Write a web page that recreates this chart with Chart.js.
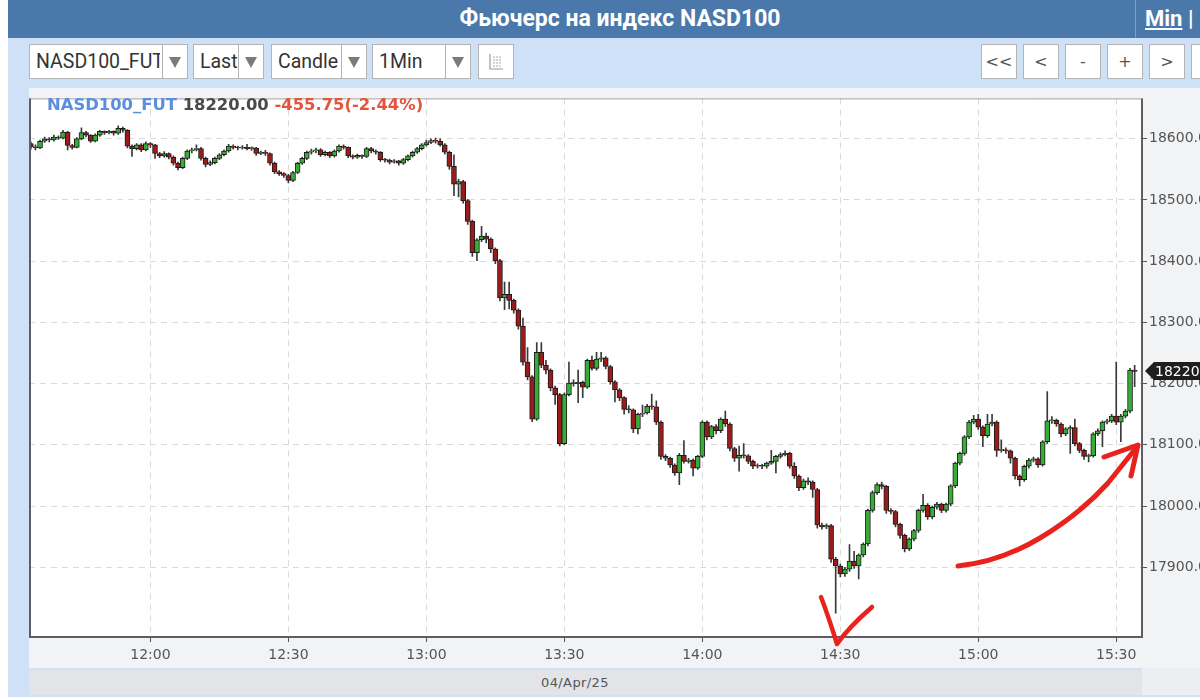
<!DOCTYPE html>
<html>
<head>
<meta charset="utf-8">
<script src="https://cdn.jsdelivr.net/npm/chart.js@4.4.1/dist/chart.umd.min.js"></script>
<style>
  html, body { margin: 0; padding: 0; width: 1200px; height: 700px; overflow: hidden; background: #fff; }
  body { position: relative; font-family: Roboto, "DejaVu Sans", sans-serif; }
  #frame { position: absolute; left: 8px; top: 0; width: 1200px; height: 697px; background: #cfe1f7; }
  #header { position: absolute; left: 8px; top: 0; width: 1200px; height: 38px; background: #4b78aa; }
  #title { position: absolute; left: 380px; top: 0; width: 480px; height: 38px; text-align: center;
           color: #fff; font: bold 23px/38px Roboto, sans-serif; }
  #sep { position: absolute; left: 1135px; top: 0; width: 1px; height: 38px; background: #7a9ec8; }
  #minlink { position: absolute; left: 1145px; top: 0; height: 38px; color: #fff; font: bold 22px/38px Roboto, sans-serif; white-space: nowrap; }
  #minlink u { text-decoration: underline; }
  .sel { position: absolute; top: 44px; height: 33px; background: #fff; border: 1px solid #b4b4b4; box-sizing: content-box; }
  .sel .txt { position: absolute; left: 6px; top: 0; height: 33px; font: 19.5px/34px Roboto, sans-serif; color: #333; overflow: hidden; white-space: nowrap; }
  .sel .arr { position: absolute; top: 0; right: 0; width: 24px; height: 33px; border-left: 1px solid #b4b4b4; }
  .sel .arr:after { content: ""; position: absolute; left: 6px; top: 12px; border-left: 6px solid transparent; border-right: 6px solid transparent; border-top: 11px solid #7a7a7a; }
  .btn { position: absolute; top: 44px; width: 34px; height: 33px; background: #fff; border: 1px solid #b4b4b4;
         text-align: center; font: 16px/33px "DejaVu Sans", sans-serif; color: #555; }
  #chartBox { position: absolute; left: 29px; top: 88px; width: 1171px; height: 580px; background: #f2f3f5; }
  #legend { position: absolute; left: 47px; top: 95px; font: bold 16.4px/20px "DejaVu Sans", sans-serif; white-space: nowrap; }
  #dateBar { position: absolute; left: 29px; top: 670px; width: 1113px; height: 25px; background: #e2e4e7; }
  #dateBar span { position: absolute; left: 512px; top: 0; font: 13px/25px "DejaVu Sans", sans-serif; color: #555; letter-spacing: 0.4px; }
  #dateRight { position: absolute; left: 1142px; top: 668px; width: 60px; height: 27px; background: #eceef1; }
  #ink { position: absolute; left: 0; top: 0; width: 1200px; height: 700px; pointer-events: none; }
</style>
</head>
<body>
<div id="frame"></div>
<div id="header"></div>
<div id="title">Фьючерс на индекс NASD100</div>
<div id="sep"></div>
<div id="minlink"><u>Min</u> |</div>

<div class="sel" style="left:29px;width:157px"><div class="txt" style="width:124px">NASD100_FUT</div><div class="arr"></div></div>
<div class="sel" style="left:193px;width:69px"><div class="txt">Last</div><div class="arr"></div></div>
<div class="sel" style="left:271px;width:94px"><div class="txt">Candle</div><div class="arr"></div></div>
<div class="sel" style="left:372px;width:97px"><div class="txt">1Min</div><div class="arr"></div></div>
<div class="btn" style="left:478px">
  <svg width="16" height="18" viewBox="0 0 16 18" style="margin-top:8px">
    <path d="M2 1 V16 H15" stroke="#999" fill="none" stroke-width="1.2"/>
    <path d="M5 4 H13 M5 7 H13 M5 10 H13 M5 13 H13" stroke="#aaa" stroke-width="1" stroke-dasharray="2 1"/>
  </svg>
</div>

<div class="btn" style="left:981px">&lt;&lt;</div>
<div class="btn" style="left:1023px">&lt;</div>
<div class="btn" style="left:1065px">-</div>
<div class="btn" style="left:1107px">+</div>
<div class="btn" style="left:1149px">&gt;</div>
<div class="btn" style="left:1191px"></div>

<div id="chartBox"><canvas id="myChart"></canvas></div>
<div id="legend"><span style="color:#5b8fde">NASD100_FUT</span> <span id="lastPrice" style="color:#4a4a4a"></span> <span style="color:#e2553a">-455.75(-2.44%)</span></div>
<div id="dateBar"><span>04/Apr/25</span></div>
<div id="dateRight"></div>

<svg id="ink" viewBox="0 0 1200 700">
  <path d="M821 597 Q829 618 837 644 Q848 628 872 607" stroke="#e8231d" stroke-width="4.5" fill="none" stroke-linecap="round" stroke-linejoin="round"/>
  <path d="M958 566 Q1000 562 1040 538 Q1080 514 1108 483 L1136 448" stroke="#e8231d" stroke-width="5" fill="none" stroke-linecap="round"/>
  <path d="M1104 457 L1138 445 L1131 476" stroke="#e8231d" stroke-width="5" fill="none" stroke-linecap="round" stroke-linejoin="round"/>
</svg>

<script>
document.addEventListener('DOMContentLoaded', function () {
  drawChart()
})

// first candle is 11:34, one candle per minute
const startMinute = 11 * 60 + 34

const opens = [
  18592,18587,18585,18596,18600,18598,18603,18601,18611,18589,
  18586,18600,18610,18606,18596,18606,18612,18610,18612,18609,
  18617,18614,18588,18584,18590,18582,18592,18590,18576,18572,
  18576,18570,18560,18553,18568,18580,18582,18584,18568,18558,
  18561,18568,18574,18580,18588,18586,18585,18586,18584,18585,
  18576,18578,18576,18560,18546,18543,18540,18532,18545,18560,
  18568,18578,18580,18582,18574,18578,18572,18580,18588,18586,
  18572,18570,18573,18571,18584,18580,18578,18566,18565,18562,
  18564,18560,18566,18572,18578,18584,18590,18594,18597,18596,
  18590,18578,18555,18526,18530,18499,18465,18414,18435,18441,
  18436,18420,18401,18340,18346,18336,18320,18294,18235,18211,
  18142,18251,18230,18222,18193,18182,18102,18182,18201,18200,
  18202,18194,18238,18225,18240,18242,18228,18203,18190,18177,
  18158,18157,18126,18150,18152,18163,18162,18137,18081,18078,
  18067,18054,18083,18073,18075,18062,18081,18137,18113,18130,
  18123,18142,18134,18094,18078,18083,18082,18073,18065,18066,
  18065,18070,18073,18081,18084,18086,18065,18049,18030,18041,
  18039,18027,17969,17966,17968,17913,17902,17889,17897,17910,
  17902,17920,17938,17993,18022,18035,18032,17993,17991,17970,
  17952,17930,17946,17960,17993,18001,17982,17998,18003,17993,
  18003,18033,18070,18086,18113,18137,18142,18129,18115,18134,
  18137,18091,18092,18090,18078,18049,18043,18065,18075,18077,
  18067,18105,18139,18140,18134,18118,18126,18128,18102,18091,
  18081,18082,18118,18123,18137,18139,18147,18137,18147,18155,
  18222
]

const highs = [
  18595,18590,18598,18603,18602,18606,18605,18614,18612,18591,
  18602,18618,18612,18607,18608,18614,18613,18614,18613,18621,
  18619,18615,18590,18592,18592,18595,18594,18591,18578,18579,
  18577,18572,18562,18570,18582,18585,18590,18586,18570,18564,
  18570,18576,18582,18591,18590,18588,18589,18591,18587,18586,
  18580,18581,18577,18562,18548,18545,18542,18547,18562,18570,
  18580,18583,18585,18584,18580,18579,18582,18590,18590,18587,
  18574,18575,18574,18586,18586,18582,18579,18568,18567,18566,
  18565,18568,18574,18580,18586,18592,18598,18600,18601,18600,
  18592,18580,18574,18534,18532,18501,18467,18437,18457,18446,
  18438,18422,18403,18366,18366,18338,18322,18307,18259,18213,
  18267,18267,18238,18224,18196,18184,18185,18235,18206,18222,
  18204,18240,18245,18251,18251,18244,18230,18205,18192,18179,
  18164,18159,18152,18165,18166,18183,18172,18139,18084,18080,
  18069,18086,18107,18078,18077,18083,18139,18139,18132,18133,
  18144,18155,18136,18096,18098,18102,18084,18075,18069,18068,
  18072,18091,18083,18087,18090,18088,18071,18051,18044,18046,
  18041,18029,17972,17971,17970,17916,17905,17900,17937,17926,
  17922,17940,17995,18025,18038,18039,18034,17996,17993,17972,
  17954,17948,17962,17995,18019,18004,18000,18006,18005,18005,
  18035,18072,18088,18115,18140,18148,18150,18131,18150,18150,
  18139,18108,18095,18092,18080,18051,18067,18078,18080,18079,
  18107,18187,18146,18142,18136,18128,18131,18142,18104,18093,
  18085,18120,18126,18139,18142,18150,18235,18150,18158,18225,
  18230
]

const lows = [
  18583,18582,18584,18594,18595,18596,18599,18600,18582,18583,
  18585,18598,18603,18594,18595,18604,18607,18608,18606,18607,
  18611,18585,18571,18582,18579,18580,18586,18568,18569,18570,
  18567,18557,18549,18551,18566,18577,18580,18565,18554,18556,
  18559,18566,18572,18578,18583,18582,18583,18582,18581,18573,
  18574,18573,18557,18543,18540,18537,18528,18530,18543,18558,
  18566,18575,18577,18571,18572,18569,18570,18578,18583,18569,
  18567,18568,18568,18569,18577,18575,18563,18562,18559,18560,
  18557,18558,18564,18570,18576,18582,18588,18592,18593,18588,
  18575,18550,18507,18505,18495,18460,18408,18401,18432,18430,
  18414,18396,18335,18321,18322,18315,18289,18230,18206,18138,
  18140,18226,18216,18188,18166,18098,18100,18180,18196,18169,
  18177,18192,18222,18222,18236,18224,18199,18170,18172,18150,
  18152,18120,18118,18146,18150,18158,18133,18076,18074,18063,
  18050,18035,18070,18070,18049,18060,18079,18108,18110,18118,
  18120,18130,18090,18073,18057,18078,18069,18061,18062,18061,
  18062,18068,18054,18078,18082,18062,18045,18025,18027,18035,
  18014,17964,17962,17963,17908,17825,17884,17885,17893,17898,
  17881,17917,17935,17990,18019,18028,17988,17987,17966,17947,
  17925,17927,17943,17957,17990,17978,17979,17995,17989,17990,
  18000,18030,18067,18083,18110,18134,18125,18097,18112,18131,
  18081,18088,18086,18070,18044,18033,18040,18062,18072,18063,
  18065,18102,18135,18130,18113,18115,18086,18098,18087,18076,
  18072,18080,18115,18097,18134,18136,18133,18105,18144,18152,
  18195
]

const closes = [
  18587,18585,18596,18600,18598,18603,18601,18611,18589,18586,
  18600,18610,18606,18596,18606,18612,18610,18612,18609,18617,
  18614,18588,18584,18590,18582,18592,18590,18576,18572,18576,
  18570,18560,18553,18568,18580,18582,18584,18568,18558,18561,
  18568,18574,18580,18588,18586,18585,18586,18584,18585,18576,
  18578,18576,18560,18546,18543,18540,18532,18545,18560,18568,
  18578,18580,18582,18574,18578,18572,18580,18588,18586,18572,
  18570,18573,18571,18584,18580,18578,18566,18565,18562,18564,
  18560,18566,18572,18578,18584,18590,18594,18597,18596,18590,
  18578,18555,18526,18530,18499,18465,18414,18435,18441,18436,
  18420,18401,18340,18346,18336,18320,18294,18235,18211,18142,
  18251,18230,18222,18193,18182,18102,18182,18201,18200,18202,
  18194,18238,18225,18240,18242,18228,18203,18190,18177,18158,
  18157,18126,18150,18152,18163,18162,18137,18081,18078,18067,
  18054,18083,18073,18075,18062,18081,18137,18113,18130,18123,
  18142,18134,18094,18078,18083,18082,18073,18065,18066,18065,
  18070,18073,18081,18084,18086,18065,18049,18030,18041,18039,
  18027,17969,17966,17968,17913,17902,17889,17897,17910,17902,
  17920,17938,17993,18022,18035,18032,17993,17991,17970,17952,
  17930,17946,17960,17993,18001,17982,17998,18003,17993,18003,
  18033,18070,18086,18113,18137,18142,18129,18115,18134,18137,
  18091,18092,18090,18078,18049,18043,18065,18075,18077,18067,
  18105,18139,18140,18134,18118,18126,18128,18102,18091,18081,
  18082,18118,18123,18137,18139,18147,18137,18147,18155,18222,
  18220
]

// axis window (minutes since midnight / price)
const xMin = 693.6
const xMax = 935.6
const yMin = 17786
const yMax = 18666

const upColor = '#36ad36'
const downColor = '#991b1b'

function minuteLabel(v) {
  const h = Math.floor(v / 60)
  const m = v % 60
  return h + ':' + String(m).padStart(2, '0')
}

// white plot, frame and last price tag
const chartDecor = {
  id: 'chartDecor',
  beforeDraw(chart) {
    const { ctx, chartArea: a } = chart
    ctx.save()
    ctx.fillStyle = '#ffffff'
    ctx.fillRect(a.left, a.top, a.width, a.height)
    ctx.restore()
  },
  afterDraw(chart) {
    const { ctx, chartArea: a } = chart
    ctx.save()
    ctx.strokeStyle = '#a0a0a0'
    ctx.lineWidth = 1
    ctx.beginPath()
    ctx.moveTo(a.left, a.top + 0.5)
    ctx.lineTo(a.right, a.top + 0.5)
    ctx.stroke()
    ctx.strokeStyle = '#5e5e5e'
    ctx.lineWidth = 2
    ctx.beginPath()
    ctx.moveTo(a.left + 1, a.top)
    ctx.lineTo(a.left + 1, a.bottom)
    ctx.lineTo(a.right, a.bottom)
    ctx.lineTo(a.right, a.top)
    ctx.stroke()

    const last = closes[closes.length - 1]
    const y = Math.round(chart.scales.y.getPixelForValue(last))
    const x0 = a.right + 3
    ctx.fillStyle = '#1e1e1e'
    ctx.beginPath()
    ctx.moveTo(x0, y)
    ctx.lineTo(x0 + 9, y - 9)
    ctx.lineTo(chart.width, y - 9)
    ctx.lineTo(chart.width, y + 9)
    ctx.lineTo(x0 + 9, y + 9)
    ctx.closePath()
    ctx.fill()
    ctx.fillStyle = '#ffffff'
    ctx.font = '14px "DejaVu Sans"'
    ctx.textBaseline = 'middle'
    ctx.fillText(last.toFixed(2), x0 + 10, y + 1)
    ctx.restore()
  }
}

function drawChart() {
  const bodies = closes.map((c, i) => ({ x: startMinute + i, y: [opens[i], c] }))
  const wicks = closes.map((c, i) => ({ x: startMinute + i, y: [lows[i], highs[i]] }))
  const bodyColors = closes.map((c, i) => c >= opens[i] ? upColor : downColor)

  document.getElementById('lastPrice').textContent = closes[closes.length - 1].toFixed(2)

  const ctx = document.getElementById('myChart')
  const config = {
    type: 'bar',
    data: {
      datasets: [
        {
          label: 'wick',
          data: wicks,
          backgroundColor: '#3a3a3a',
          barThickness: 1,
          grouped: false,
          order: 2
        },
        {
          label: 'NASD100_FUT',
          data: bodies,
          backgroundColor: bodyColors,
          borderColor: '#1c1c1c',
          borderWidth: 1,
          borderSkipped: false,
          barThickness: 5,
          minBarLength: 1,
          grouped: false,
          order: 1
        }
      ]
    },
    options: {
      responsive: true,
      maintainAspectRatio: false,
      animation: false,
      devicePixelRatio: 1,
      layout: { padding: 0 },
      plugins: { legend: { display: false }, tooltip: { enabled: false } },
      scales: {
        x: {
          type: 'linear',
          min: xMin,
          max: xMax,
          offset: false,
          grid: { offset: false, color: '#dadada', tickColor: '#555', tickLength: 5 },
          border: { display: false, dash: [6, 5] },
          ticks: {
            stepSize: 30,
            includeBounds: false,
            maxRotation: 0,
            padding: 5,
            color: '#555',
            font: { family: 'DejaVu Sans', size: 14 },
            callback: v => minuteLabel(v)
          },
          afterFit: s => { s.height = 31 }
        },
        y: {
          position: 'right',
          min: yMin,
          max: yMax,
          grid: { color: '#dadada', tickColor: '#555', tickLength: 5 },
          border: { display: false, dash: [6, 5] },
          ticks: {
            stepSize: 100,
            includeBounds: false,
            padding: 2,
            color: '#555',
            font: { family: 'DejaVu Sans', size: 14 },
            callback: v => (v - yMin < 40 ? null : v.toFixed(2))
          },
          afterFit: s => { s.width = 58 }
        }
      }
    },
    plugins: [chartDecor]
  }

  const myChart = new Chart(ctx, config)
}
</script>
</body>
</html>
